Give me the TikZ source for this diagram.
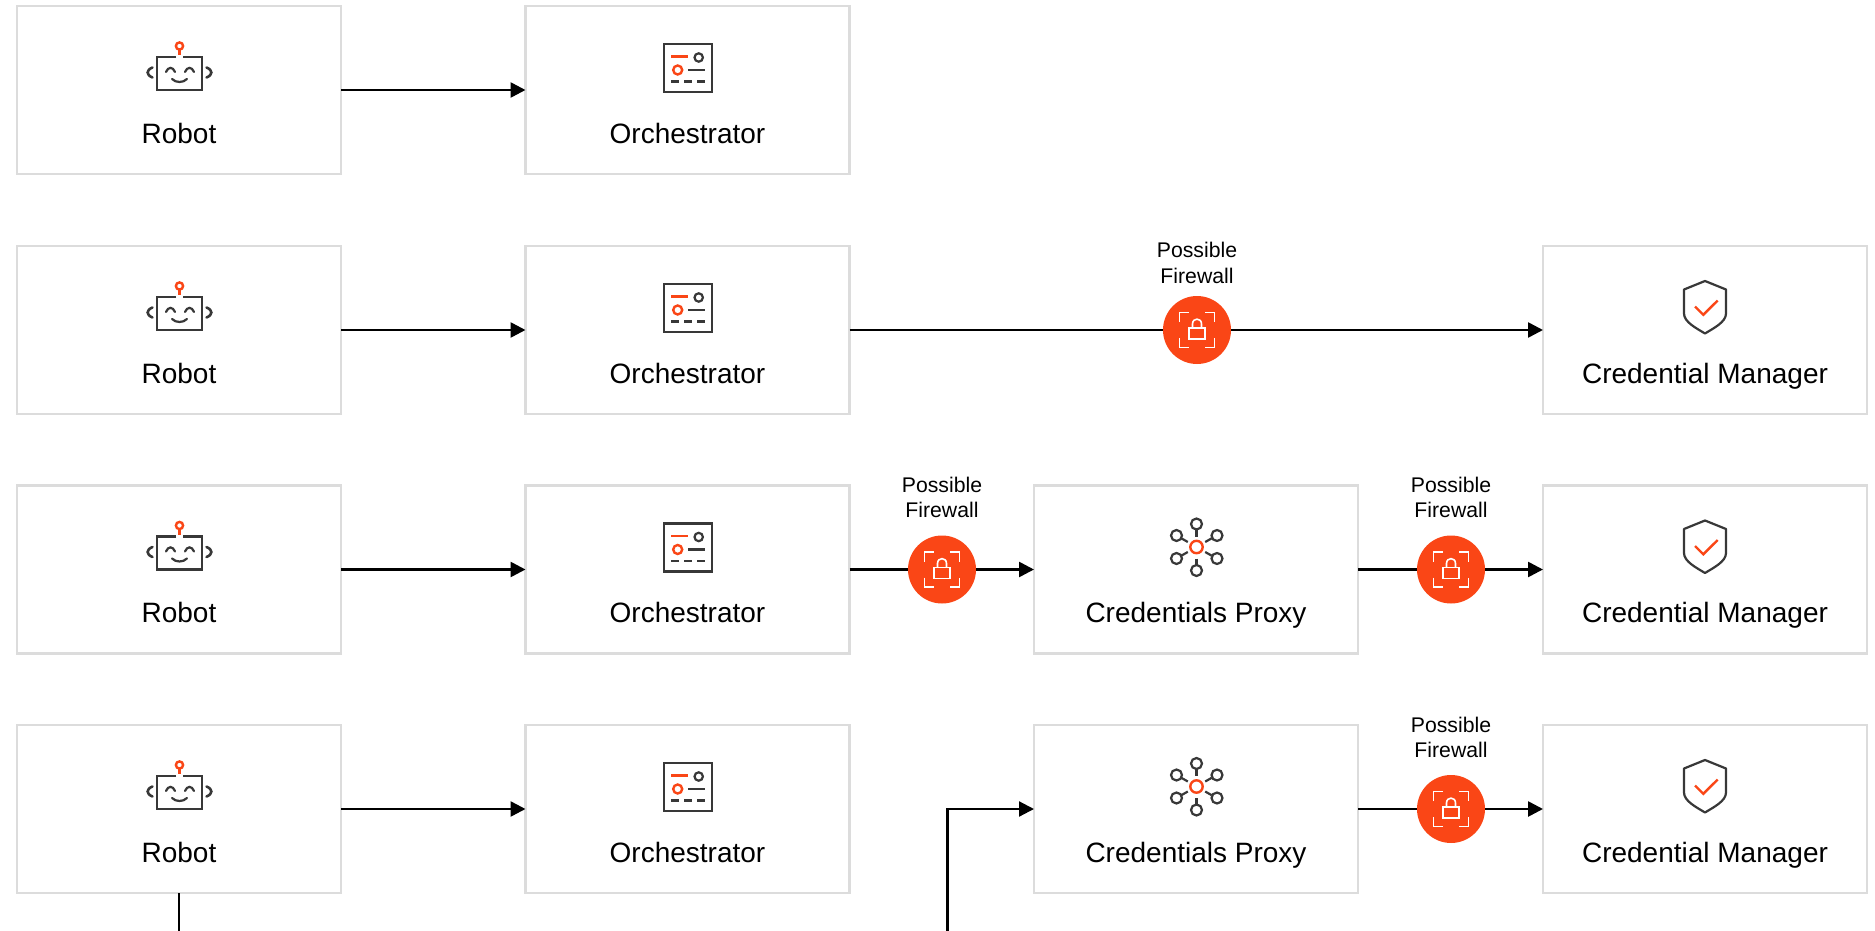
\documentclass[tikz,border=0pt]{standalone}
\usepackage{fontspec}
\setmainfont{Liberation Sans}
\usetikzlibrary{arrows.meta}
\definecolor{uiorange}{RGB}{250,70,22}
\definecolor{icondark}{RGB}{56,56,56}
\definecolor{boxgray}{RGB}{220,220,220}
\tikzset{
    box/.style={draw=boxgray,line width=2.2pt,fill=white,minimum width=324pt,minimum height=168pt,inner sep=0pt,outer sep=0pt},
    boxtext/.style={anchor=base,font=\fontsize{28}{32}\selectfont,inner sep=0pt},
    fwtext/.style={align=center,font=\fontsize{21.2}{25.5}\selectfont,inner sep=0pt},
    firewall/.style={circle,fill=uiorange,minimum size=68pt,inner sep=0pt,outer sep=0pt},
    conn/.style={line width=2.6pt,-{Triangle[length=15pt,width=15pt]}},
    dk/.style={draw=icondark,line width=2.2pt},
    og/.style={draw=uiorange,line width=2.4pt},
    roboticon/.pic={
        \draw[dk] (-3,-33) -- (-22,-33) -- (-22,0) -- (23,0) -- (23,-33) -- (4,-33);
        \draw[og] (0.5,-44) circle[radius=3.6];
        \draw[og,line width=2.8pt] (0.5,-40) -- (0.5,-35);
        \draw[dk,line cap=round] (-13,-18) .. controls (-11,-23.5) and (-6,-23.5) .. (-4,-18);
        \draw[dk,line cap=round] (6,-18) .. controls (8,-23.5) and (13,-23.5) .. (15,-18);
        \draw[dk,line cap=round] (-7,-11) .. controls (-3,-7) and (4,-7) .. (8,-11);
        \draw[dk,line cap=round,line width=2.6pt] (-26.5,-22.5) .. controls (-33,-20) and (-33,-15) .. (-26.5,-12.5);
        \draw[dk,line cap=round,line width=2.6pt] (27.5,-22.5) .. controls (34,-20) and (34,-15) .. (27.5,-12.5);
    },
    orchicon/.pic={
        \draw[dk] (-23.5,-46) rectangle (24.5,2);
        \draw[og] (-16.5,-33.5) -- (0.5,-33.5);
        \draw[dk] (11.2,-32.5) circle[radius=4.2];
        \draw[og] (-9.8,-20) circle[radius=4.5];
        \draw[dk] (0.5,-20) -- (17.5,-20);
        \draw[dk] (-16.5,-8.5) -- (-8.5,-8.5);
        \draw[dk] (-3.5,-8.5) -- (4.5,-8.5);
        \draw[dk] (9.5,-8.5) -- (17.5,-8.5);
    },
    proxyicon/.pic={
        \draw[og] (0.5,-22.5) circle[radius=6.2];
        \foreach \a/\b in {0/-45.5,0/1,-20/-34,20.5/-34,-20/-11,20.5/-11}{
            \draw[dk] (\a+0.5,\b) circle[radius=5.5];
        }
        \draw[dk] (0.5,-40) -- (0.5,-33);
        \draw[dk] (0.5,-11) -- (0.5,-4);
        \draw[dk] (-8.2,-27.5) -- (-14.7,-31.2);
        \draw[dk] (9.2,-27.5) -- (15.7,-31.2);
        \draw[dk] (-8.2,-17.5) -- (-14.7,-13.8);
        \draw[dk] (9.2,-17.5) -- (15.7,-13.8);
    },
    shieldicon/.pic={
        \draw[dk,line join=round] (0,-49) -- (21,-40.5) -- (21,-16.5) .. controls (21,-8) and (9,-2) .. (0,3.5)
            .. controls (-9,-2) and (-21,-8) .. (-21,-16.5) -- (-21,-40.5) -- cycle;
        \draw[og] (-10,-23.5) -- (-1.7,-15.2) -- (12.7,-29.5);
    },
    lockicon/.pic={
        \draw[white,line width=1.6pt] (-17.5,-8) -- (-17.5,-17.5) -- (-8,-17.5);
        \draw[white,line width=1.6pt] (8,-17.5) -- (17.5,-17.5) -- (17.5,-8);
        \draw[white,line width=1.6pt] (-17.5,8) -- (-17.5,17.5) -- (-8,17.5);
        \draw[white,line width=1.6pt] (8,17.5) -- (17.5,17.5) -- (17.5,8);
        \draw[white,line width=1.6pt] (-8,-2) rectangle (8,9);
        \draw[white,line width=1.6pt] (-4.5,-2) -- (-4.5,-6) .. controls (-4.5,-12.5) and (4.5,-12.5) .. (4.5,-6) -- (4.5,-2);
    },
}
\begin{document}
\begin{tikzpicture}[x=1pt,y=-1pt]
    \useasboundingbox (0,0) rectangle (1875,931);

    % First row
    \node[box] (robotA) at (179,90) {};
    \node[box] (orchA) at (687.5,90) {};
    \node[boxtext] (robotAtext) at (179,144) {Robot};
    \node[boxtext] (orchAtext) at (687.5,144) {Orchestrator};
    \pic at (robotA) {roboticon};
    \pic at (orchA) {orchicon};

    % Second row
    \node[box] (robotB) at (179,330) {};
    \node[box] (orchB) at (687.5,330) {};
    \node[box] (credB) at (1705,330) {};
    \node[firewall] (fwB) at (1197,330) {};
    \node[boxtext] (robotBtext) at (179,383.5) {Robot};
    \node[boxtext] (orchBtext) at (687.5,383.5) {Orchestrator};
    \node[boxtext] (credBtext) at (1705,383.5) {Credential Manager};
    \node[fwtext] (fwBtext) at (1197,263) {Possible\\Firewall};
    \pic at (robotB) {roboticon};
    \pic at (orchB) {orchicon};
    \pic at (credB) {shieldicon};
    \pic at (fwB) {lockicon};

    % Third row
    \node[box] (robotC) at (179,569.5) {};
    \node[box] (orchC) at (687.5,569.5) {};
    \node[box] (proxyC) at (1196,569.5) {};
    \node[box] (credC) at (1705,569.5) {};
    \node[firewall] (fwC) at (942,569.5) {};
    \node[firewall] (fwD) at (1451,569.5) {};
    \node[boxtext] (robotCtext) at (179,622.5) {Robot};
    \node[boxtext] (orchCtext) at (687.5,622.5) {Orchestrator};
    \node[boxtext] (proxyCtext) at (1196,622.5) {Credentials Proxy};
    \node[boxtext] (credCtext) at (1705,622.5) {Credential Manager};
    \node[fwtext] (fwCtext) at (942,497.5) {Possible\\Firewall};
    \node[fwtext] (fwDtext) at (1451,497.5) {Possible\\Firewall};
    \pic at (robotC) {roboticon};
    \pic at (orchC) {orchicon};
    \pic at (proxyC) {proxyicon};
    \pic at (credC) {shieldicon};
    \pic at (fwC) {lockicon};
    \pic at (fwD) {lockicon};

    % Fourth row
    \node[box] (robotE) at (179,809) {};
    \node[box] (orchE) at (687.5,809) {};
    \node[box] (proxyE) at (1196,809) {};
    \node[box] (credE) at (1705,809) {};
    \node[firewall] (fwE) at (1451,809) {};
    \node[boxtext] (robotEtext) at (179,862.8) {Robot};
    \node[boxtext] (orchEtext) at (687.5,862.8) {Orchestrator};
    \node[boxtext] (proxyEtext) at (1196,862.8) {Credentials Proxy};
    \node[boxtext] (credEtext) at (1705,862.8) {Credential Manager};
    \node[fwtext] (fwEtext) at (1451,737.5) {Possible\\Firewall};
    \pic at (robotE) {roboticon};
    \pic at (orchE) {orchicon};
    \pic at (proxyE) {proxyicon};
    \pic at (credE) {shieldicon};
    \pic at (fwE) {lockicon};
    \coordinate (robotEend) at (179,931);
    \coordinate (proxyEstart) at (947.5,931);
    \coordinate (proxyEbend) at (947.5,809);

    % Connections
    \draw[conn] (robotA) -- (orchA);
    \draw[conn] (robotB) -- (orchB);
    \draw[conn,-] (orchB) -- (fwB);
    \draw[conn] (fwB) -- (credB);
    \draw[conn] (robotC) -- (orchC);
    \draw[conn,-] (orchC) -- (fwC);
    \draw[conn] (fwC) -- (proxyC);
    \draw[conn,-] (proxyC) -- (fwD);
    \draw[conn] (fwD) -- (credC);
    \draw[conn] (robotE) -- (orchE);
    \draw[conn,-] (proxyE) -- (fwE);
    \draw[conn] (fwE) -- (credE);
    \draw[line width=2pt] (robotE) -- (robotEend);
    \draw[conn,line width=2.2pt] (proxyEstart) -- (proxyEbend) -- (proxyE);
\end{tikzpicture}
\end{document}
